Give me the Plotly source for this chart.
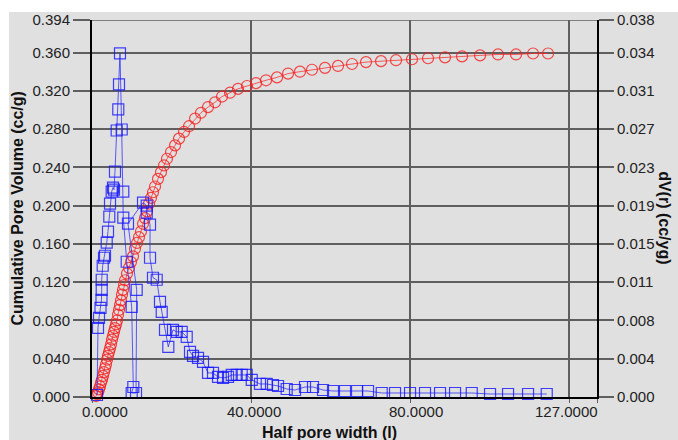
import plotly.graph_objects as go

# ---------------- data ----------------
half_width_cum = [1.01, 1.26, 1.51, 1.76, 2.01, 2.26, 2.52, 2.77, 3.02, 3.27, 3.52, 3.77, 4.02, 4.28,
                  4.53, 4.78, 5.03, 5.28, 5.53, 5.78, 6.04, 6.29, 6.54, 6.79, 7.04, 7.29, 7.55, 7.80,
                  8.05, 8.30, 8.80, 9.31, 9.81, 10.31, 10.81, 11.32, 11.82, 12.32, 12.83, 13.33, 13.83,
                  14.34, 14.84, 15.34, 15.85, 16.60, 17.35, 18.11, 18.86, 19.87, 20.88, 21.88, 23.14,
                  24.40, 25.91, 27.41, 29.18, 30.94, 32.70, 34.71, 36.72, 38.98, 41.25, 43.76, 46.53,
                  49.30, 52.31, 55.33, 58.60, 61.87, 65.39, 68.91, 72.69, 76.46, 80.48, 84.51, 88.78,
                  93.06, 97.59, 102.11, 106.64, 110.92, 114.69]
cum_volume = [0.001, 0.003, 0.005, 0.008, 0.011, 0.015, 0.018, 0.022, 0.026, 0.030, 0.034, 0.039,
              0.043, 0.047, 0.051, 0.055, 0.060, 0.064, 0.068, 0.072, 0.076, 0.080, 0.086, 0.091,
              0.096, 0.101, 0.107, 0.112, 0.117, 0.122, 0.129, 0.135, 0.141, 0.147, 0.155, 0.161,
              0.167, 0.173, 0.181, 0.187, 0.194, 0.202, 0.208, 0.214, 0.220, 0.228, 0.235, 0.242,
              0.249, 0.256, 0.263, 0.270, 0.277, 0.283, 0.291, 0.297, 0.303, 0.308, 0.314, 0.318,
              0.322, 0.325, 0.328, 0.331, 0.334, 0.338, 0.340, 0.342, 0.344, 0.346, 0.348, 0.350,
              0.351, 0.352, 0.353, 0.354, 0.355, 0.356, 0.357, 0.358, 0.358, 0.359, 0.359]

half_width_dv = [1.26, 1.51, 1.76, 2.14, 2.39, 2.44, 2.44, 2.69, 3.02, 3.27, 3.70, 4.02, 4.35, 4.53,
                 4.95, 5.28, 5.53, 5.78, 6.21, 6.61, 6.79, 7.04, 7.47, 7.87, 7.87, 8.73, 9.98, 10.39,
                 9.98, 11.07, 11.24, 9.05, 12.83, 13.76, 13.76, 14.59, 14.59, 15.34, 16.27, 17.10,
                 17.53, 18.36, 19.19, 20.37, 21.30, 22.56, 23.82, 24.65, 25.40, 26.66, 27.92, 29.18,
                 30.43, 31.69, 32.95, 34.21, 35.14, 36.39, 37.65, 38.91, 40.17, 42.25, 43.94, 45.52,
                 46.78, 48.96, 51.06, 53.57, 55.58, 58.10, 60.61, 63.63, 66.65, 69.42, 72.86, 76.21,
                 79.98, 83.75, 87.53, 91.30, 95.50, 100.10, 104.63, 109.66, 114.36]
dv = [0.0002, 0.0069, 0.0079, 0.0089, 0.0097, 0.0107, 0.0117, 0.0131, 0.0139, 0.0141, 0.0154,
      0.0165, 0.0180, 0.0193, 0.0205, 0.0209, 0.0207, 0.0225, 0.0266, 0.0287, 0.0312, 0.0343,
      0.0267, 0.0205, 0.0179, 0.0135, 0.0090, 0.0010, 0.0004, 0.0004, 0.0107, 0.0173, 0.0194,
      0.0191, 0.0184, 0.0172, 0.0139, 0.0119, 0.0117, 0.0095, 0.0085, 0.0067, 0.0050, 0.0067,
      0.0065, 0.0065, 0.0060, 0.0045, 0.0041, 0.0039, 0.0035, 0.0024, 0.0024, 0.0020, 0.0019,
      0.0020, 0.0022, 0.0022, 0.0022, 0.0022, 0.0017, 0.0013, 0.0013, 0.0012, 0.0011, 0.0008,
      0.0007, 0.0010, 0.0010, 0.0007, 0.0006, 0.0006, 0.0006, 0.0006, 0.0004, 0.0004, 0.0004,
      0.0004, 0.0004, 0.0004, 0.0004, 0.0003, 0.0003, 0.0003, 0.0003]

left_tickvals = [0.0, 0.04, 0.08, 0.12, 0.16, 0.20, 0.24, 0.28, 0.32, 0.36, 0.394]
left_ticktext = ["0.000", "0.040", "0.080", "0.120", "0.160", "0.200", "0.240", "0.280",
                 "0.320", "0.360", "0.394"]
right_ticktext = ["0.000", "0.004", "0.008", "0.011", "0.015", "0.019", "0.023", "0.027",
                  "0.031", "0.034", "0.038"]
x_gridvals = [0, 40, 80, 120, 127]
x_ticktext = ["0.0000", "40.0000", "80.0000", "127.0000"]

# ---------------- styling ----------------
RATIO = 0.0955          # right-axis units per left-axis unit
BG = "rgb(224,224,224)"
GRID = "rgb(95,95,95)"
FONT = "Liberation Sans, Arial, sans-serif"

fig = go.Figure()
fig.add_trace(go.Scatter(
    x=half_width_dv, y=dv, yaxis="y2", mode="lines+markers",
    line=dict(color="rgba(40,40,255,0.75)", width=1),
    marker=dict(symbol="square-open", size=11, color="rgba(20,20,255,0.8)", line=dict(width=1.2)),
    cliponaxis=False, showlegend=False))
fig.add_trace(go.Scatter(
    x=half_width_cum, y=cum_volume, mode="lines+markers",
    line=dict(color="rgba(255,40,40,0.75)", width=1),
    marker=dict(symbol="circle-open", size=11, color="rgba(245,30,30,0.8)", line=dict(width=1.2)),
    cliponaxis=False, showlegend=False))

fig.update_layout(
    width=678, height=440,
    margin=dict(l=92, r=81, t=20, b=43),
    paper_bgcolor=BG, plot_bgcolor=BG,
    font=dict(family=FONT, size=15, color="#222"),
    xaxis=dict(range=[0, 127], tickvals=x_gridvals, ticktext=[""] * 5,
               showgrid=True, gridcolor=GRID, gridwidth=1.5,
               showline=True, linecolor="black", linewidth=2,
               ticks="outside", ticklen=4, tickcolor=GRID, zeroline=False),
    yaxis=dict(range=[0, 0.394], tickvals=left_tickvals, ticktext=left_ticktext,
               showgrid=True, gridcolor=GRID, gridwidth=1.5,
               showline=True, linecolor="black", linewidth=2,
               ticks="outside", ticklen=17, tickwidth=1.5, tickcolor=GRID, zeroline=False,
               tickfont=dict(size=15, color="#222")),
    yaxis2=dict(range=[0, 0.394 * RATIO], overlaying="y", side="right",
                tickvals=[v * RATIO for v in left_tickvals], ticktext=right_ticktext,
                showgrid=False, showline=True, linecolor="black", linewidth=2,
                ticks="outside", ticklen=15, tickwidth=1.5, tickcolor=GRID, zeroline=False,
                tickfont=dict(size=15, color="#222")),
)

# top grid line (max tick) and white page strips
fig.add_shape(type="line", xref="x", yref="y", x0=0, x1=127, y0=0.394, y1=0.394,
              line=dict(color=GRID, width=1.5), layer="below")
fig.add_shape(type="rect", xref="paper", yref="paper", x0=-0.2, x1=1.2, y0=1.0212, y1=1.08,
              fillcolor="white", line=dict(width=0), layer="below")
fig.add_shape(type="rect", xref="paper", yref="paper", x0=-0.2, x1=-0.1644, y0=-0.2, y1=1.08,
              fillcolor="white", line=dict(width=0), layer="below")

# x tick labels (placed as in the reference)
label_pos = [3.27, 40.7, 81.5, 119.4]
for xv, txt in zip(label_pos, x_ticktext):
    fig.add_annotation(x=xv, y=0, xref="x", yref="paper", text=txt, showarrow=False,
                       xanchor="center", yanchor="top", yshift=-4,
                       font=dict(size=15, color="#222"))

# axis titles
fig.add_annotation(x=0.470, y=0, xref="paper", yref="paper", text="<b>Half pore width (l)</b>",
                   showarrow=False, xanchor="center", yanchor="middle", yshift=-35,
                   font=dict(size=16, color="#111"))
fig.add_annotation(x=-0.1485, y=0.5, xref="paper", yref="paper",
                   text="<b>Cumulative Pore Volume (cc/g)</b>", textangle=-90,
                   showarrow=False, xanchor="center", yanchor="middle",
                   font=dict(size=16, color="#111"))
fig.add_annotation(x=1.1347, y=0.477, xref="paper", yref="paper",
                   text="<b>dV(r) (cc/yg)</b>", textangle=90,
                   showarrow=False, xanchor="center", yanchor="middle",
                   font=dict(size=16, color="#111"))

fig.write_html("out.html")
